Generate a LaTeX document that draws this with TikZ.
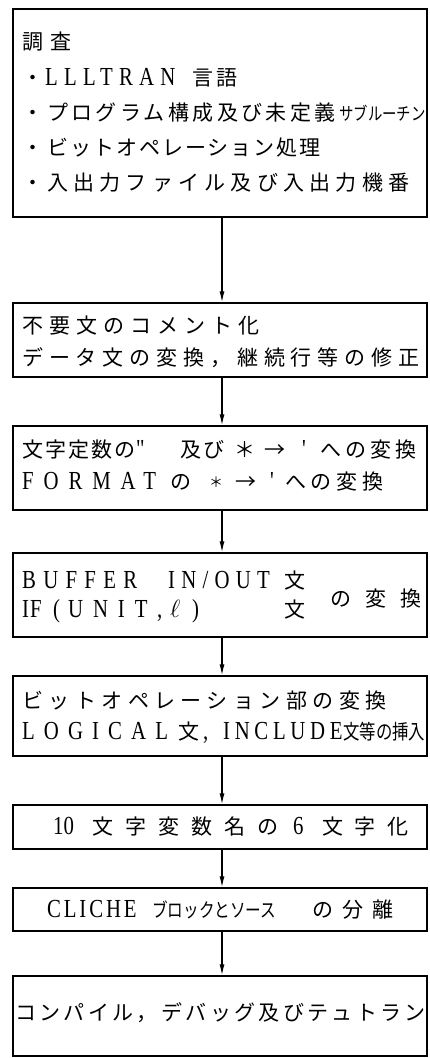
\documentclass[tikz,border=0pt]{standalone}
\usepackage{fontspec}
\usetikzlibrary{arrows.meta}
\newfontfamily\jpf{Noto Sans CJK JP}
\newfontfamily\jpc[FakeStretch=0.8]{Noto Sans CJK JP}
\newfontfamily\ltf[FakeStretch=0.8]{Liberation Serif}
\newcommand\J[3][21]{{\fontsize{#1}{#1}\selectfont\jpf\addfontfeature{LetterSpace=#2}#3}}
\newcommand\JC[2][19.5]{{\fontsize{#1}{#1}\selectfont\jpc #2}}
\newcommand\E[3][26]{{\fontsize{#1}{#1}\selectfont\ltf\addfontfeature{LetterSpace=#2}#3}}
\tikzset{
  box/.style={draw, line width=1.4pt, minimum width=414pt, inner sep=0pt},
  txt/.style={inner sep=0pt, anchor=base west},
  arr/.style={line width=1.2pt, -{Latex[length=11pt,width=5pt]}},
}
\begin{document}
\begin{tikzpicture}[x=1pt,y=-1pt]
\useasboundingbox (0,0) rectangle (429,1058);
% boxes
\node[box, minimum height=208pt] (b1) at (220,113) {};
\node[box, minimum height=74pt] (b2) at (220,340) {};
\node[box, minimum height=84pt] (b3) at (220,468) {};
\node[box, minimum height=84pt] (b4) at (220,595) {};
\node[box, minimum height=80pt] (b5) at (220,716) {};
\node[box, minimum height=44pt] (b6) at (220,827) {};
\node[box, minimum height=43pt] (b7) at (220,909.5) {};
\node[box, minimum height=80pt] (b8) at (220,1016) {};
% connectors
\foreach \a/\b in {b1/b2,b2/b3,b3/b4,b4/b5,b5/b6,b6/b7,b7/b8}
  \draw[arr] ([xshift=2pt]\a.south) -- ([xshift=2pt]\b.north);
% box 1
\node[txt] (t1a) at (22,49) {\J{33}{調査}};
\node[txt] (t1b0) at (22.5,85) {\J{0}{・}};
\node[txt] (t1b1) at (45,85) {\E{24}{LLLTRAN}};
\node[txt] (t1b2) at (192,85) {\J{14}{言語}};
\node[txt] (t1c0) at (22.5,120) {\J{0}{・}};
\node[txt] (t1c1) at (47,120) {\J{16}{プログラム構成及び未定義}};
\node[txt] (t1c2) at (339,120) {\JC[18]{サブルーチン}};
\node[txt] (t1d0) at (22.5,155) {\J{0}{・}};
\node[txt] (t1d1) at (47,155) {\J{9.5}{ビットオペレーション処理}};
\node[txt] (t1e0) at (22.5,190) {\J{0}{・}};
\node[txt] (t1e1) at (47,190) {\J{25}{入出力ファイル及び入出力機番}};
% box 2
\node[txt] (t2a) at (22,333) {\J{29}{不要文のコメント化}};
\node[txt] (t2b) at (22,365) {\J{28}{データ文の変換，継続行等の修正}};
% box 3
\node[txt] (t3a1) at (22,457) {\J{9.5}{文字定数の}};
\node[txt] (t3a2) at (136,457) {\E{0}{\char"22}};
\node[txt] (t3a3) at (180,457) {\J{9.5}{及び}};
\node[txt] (t3a4) at (234,457) {\J{0}{＊}};
\node[txt] (t3a5) at (264,457) {\J{0}{→}};
\node[txt] (t3a6) at (302,457) {\E{0}{\char"27}};
\node[txt] (t3a7) at (320,457) {\J{19}{への変換}};
\node[txt] (t3b1) at (22,489) {\E{38}{FORMAT}};
\node[txt] (t3b2) at (170,489) {\J{0}{の}};
\node[txt] (t3b3) at (209,487) {\J[14]{0}{＊}};
\node[txt] (t3b4) at (235,489) {\J{0}{→}};
\node[txt] (t3b5) at (270,489) {\E{0}{\char"27}};
\node[txt] (t3b6) at (285,489) {\J{22}{への変換}};
% box 4
\node[txt] (t4a1) at (22,588) {\E{28}{BUFFER}};
\node[txt] (t4a2) at (168,588) {\E{24}{IN/OUT}};
\node[txt] (t4a3) at (284,588) {\J{0}{文}};
\node[txt] (t4b1) at (22,617) {\E{4}{IF}};
\node[txt] (t4b2) at (53,617) {\E{0}{(}};
\node[txt] (t4b3) at (68,617) {\E{38}{UNIT}};
\node[txt] (t4b4) at (157,617) {\E{0}{,}};
\node[txt] (t4b5) at (170,617) {\fontsize{24}{24}\selectfont$\ell$};
\node[txt] (t4b6) at (192,617) {\E{0}{)}};
\node[txt] (t4b7) at (284,617) {\J{0}{文}};
\node[txt] (t4c) at (330,606) {\J{67}{の変換}};
% box 5
\node[txt] (t5a) at (22,708) {\J{26}{ビットオペレーション部の変換}};
\node[txt] (t5b1) at (22,739) {\E{35}{LOGICAL}};
\node[txt] (t5b2) at (178,739) {\J{0}{文}};
\node[txt] (t5b3) at (203,739) {\E{0}{,}};
\node[txt] (t5b4) at (223,739) {\E{18}{INCLUDE}};
\node[txt] (t5b5) at (343,739) {\JC[20.5]{文等の挿入}};
% box 6
\node[txt] (t6a) at (53,834) {\E{0}{10}};
\node[txt] (t6b) at (92,834) {\J{57}{文字変数名の}};
\node[txt] (t6c) at (293,834) {\E{0}{6}};
\node[txt] (t6d) at (322,834) {\J{55}{文字化}};
% box 7
\node[txt] (t7a) at (47,917) {\E{11}{CLICHE}};
\node[txt] (t7b) at (152,917) {\JC[19.5]{ブロックとソース}};
\node[txt] (t7c) at (312,917) {\J{43}{の分離}};
% box 8
\node[txt] (t8) at (15,1020) {\J{16}{コンパイル，デバッグ及びテュトラン}};
\end{tikzpicture}
\end{document}
